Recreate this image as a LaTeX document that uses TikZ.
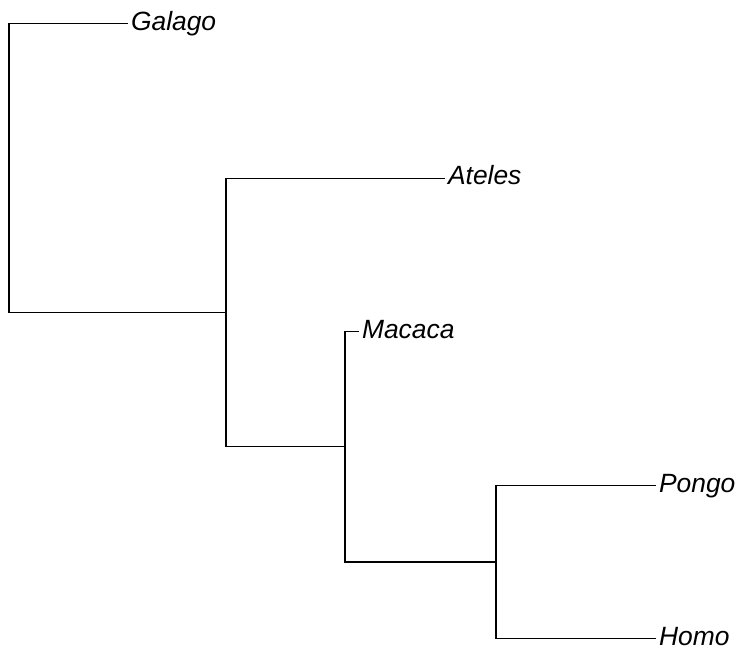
\documentclass[tikz,border=0pt]{standalone}
\usepackage{fontspec}
\setmainfont{Liberation Sans}
\begin{document}
\begin{tikzpicture}[x=0.5pt,y=-0.5pt,line width=0.65pt,font=\fontsize{13.2}{15}\selectfont\itshape,
		taxon/.style={anchor=base west,inner sep=0pt,xshift=1.2pt,yshift=-3.4pt}]
		\useasboundingbox (0,0) rectangle (737,651);
		% tips
		\coordinate (tGalago) at (128,23.5);
		\coordinate (tAteles) at (445,178.2);
		\coordinate (tMacaca) at (359,331.6);
		\coordinate (tPongo) at (656,485.4);
		\coordinate (tHomo) at (656,638.4);
		% inner nodes
		\coordinate (nHom) at (496,561.9);
		\coordinate (nCat) at (345,446.8);
		\coordinate (nAnt) at (226,312.5);
		\coordinate (nRoot) at (9,168);
		\draw (nRoot) |- (tGalago);
		\draw (nRoot) |- (nAnt);
		\draw (nAnt) |- (tAteles);
		\draw (nAnt) |- (nCat);
		\draw (nCat) |- (tMacaca);
		\draw (nCat) |- (nHom);
		\draw (nHom) |- (tPongo);
		\draw (nHom) |- (tHomo);
		\node[taxon] (Galago) at (tGalago) {Galago};
		\node[taxon] (Ateles) at (tAteles) {Ateles};
		\node[taxon] (Macaca) at (tMacaca) {Macaca};
		\node[taxon] (Pongo) at (tPongo) {Pongo};
		\node[taxon] (Homo) at (tHomo) {Homo};
	\end{tikzpicture}
\end{document}
